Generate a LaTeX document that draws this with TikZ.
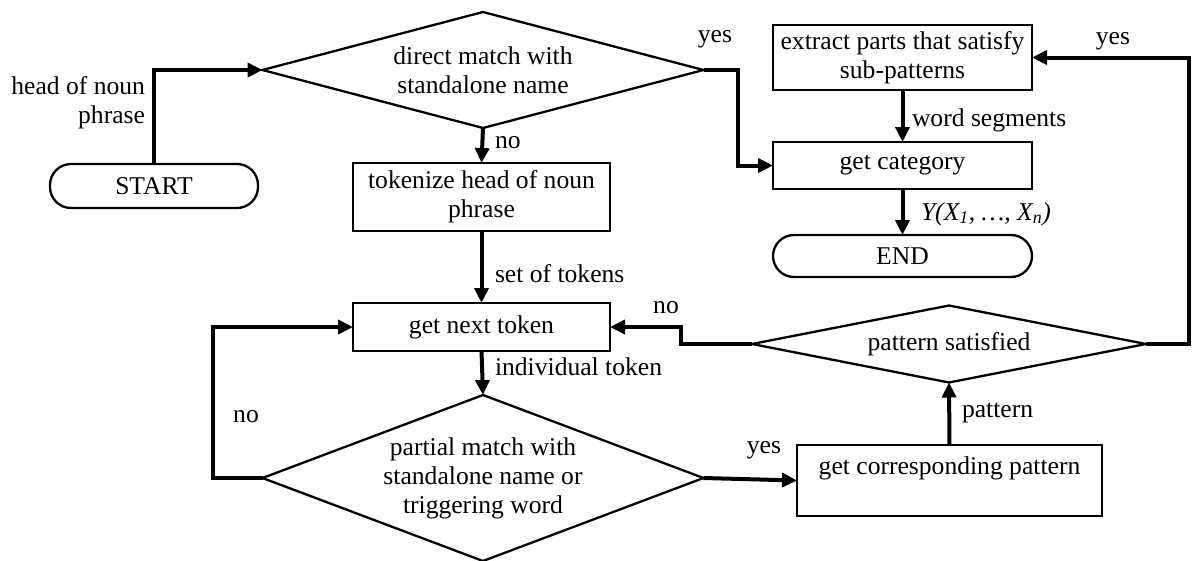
\documentclass[tikz,border=0pt]{standalone}
\usepackage{fontspec}
\setmainfont{Liberation Serif}
\usetikzlibrary{shapes.geometric,arrows.meta}
\begin{document}
\begin{tikzpicture}[x=1pt,y=-1pt,
  every node/.style={font=\fontsize{25.6}{29}\selectfont, inner sep=0pt, outer sep=0pt},
  box/.style={draw, line width=2.3pt, rectangle, align=center},
  term/.style={draw, line width=2.3pt, rectangle, rounded corners=21pt, align=center},
  decision/.style={draw, diamond, line width=2.3pt, align=center},
  conn/.style={line width=4pt, -{Triangle[length=15pt,width=14pt]}},
  lbl/.style={}]
\useasboundingbox (0,0) rectangle (1192,560);

% nodes
\node[term, minimum width=208pt, minimum height=44pt] (start) at (154,186) {START};
\node[decision, aspect=3.8, minimum width=441pt, minimum height=116pt] (d1) at (483,70) {direct match with\\standalone name};
\node[box, minimum width=257pt, minimum height=68pt] (tok) at (481.5,197) {tokenize head of noun\\phrase};
\node[box, minimum width=257pt, minimum height=48pt] (gnt) at (481.5,327) {get next token};
\node[decision, aspect=2.66, minimum width=441pt, minimum height=166pt] (d2) at (483,478) {partial match with\\standalone name or\\triggering word};
\node[box, minimum width=305pt, minimum height=71pt] (gcp) at (949.5,480.5) {get corresponding pattern\\\mbox{}};
\node[decision, aspect=5.1, minimum width=394pt, minimum height=77pt] (d3) at (949,344) {pattern satisfied};
\node[box, minimum width=259pt, minimum height=65pt] (ext) at (902.5,57.5) {extract parts that satisfy\\sub-patterns};
\node[box, minimum width=259pt, minimum height=47pt] (gc) at (902.5,165.5) {get category};
\node[term, minimum width=259pt, minimum height=42pt] (end) at (902.5,256) {END};

% helper coordinates
\coordinate (c1) at (738,70);
\coordinate (c2) at (213,478);
\coordinate (c3) at (681,344);
\coordinate (c4) at (1189,344);

% connectors
\draw[conn] (start.north) |- (d1.west);
\draw[conn] (d1.east) -- (c1) |- (gc.west);
\draw[conn] (d1.south) -- (tok.north);
\draw[conn] (tok.south) -- (gnt.north);
\draw[conn] (gnt.south) -- (d2.north);
\draw[conn] (d2.west) -- (c2) |- (gnt.west);
\draw[conn] (d2.east) -- (gcp.west);
\draw[conn] (gcp.north) -- (d3.south);
\draw[conn] (d3.west) -- (c3) |- (gnt.east);
\draw[conn] (d3.east) -- (c4) |- (ext.east);
\draw[conn] (ext.south) -- (gc.north);
\draw[conn] (gc.south) -- (end.north);

% labels
\node[lbl, align=right, anchor=east] (l1) at (145,103) {head of noun\\phrase};
\node[lbl] (l2) at (715,39) {yes};
\node[lbl, anchor=west] (l3) at (495,143) {no};
\node[lbl, anchor=west] (l4) at (495,274) {set of tokens};
\node[lbl, anchor=west] (l5) at (495,367) {individual token};
\node[lbl] (l6) at (246,417) {no};
\node[lbl] (l7) at (764,450) {yes};
\node[lbl, anchor=west] (l8) at (962,413) {pattern};
\node[lbl] (l9) at (666,308) {no};
\node[lbl] (l10) at (1113,41) {yes};
\node[lbl, anchor=west] (l11) at (912,120) {word segments};
\node[lbl, anchor=west] (l12) at (921,214) {\itshape Y(X\textsubscript{1}, …, X\textsubscript{n})};
\end{tikzpicture}
\end{document}
